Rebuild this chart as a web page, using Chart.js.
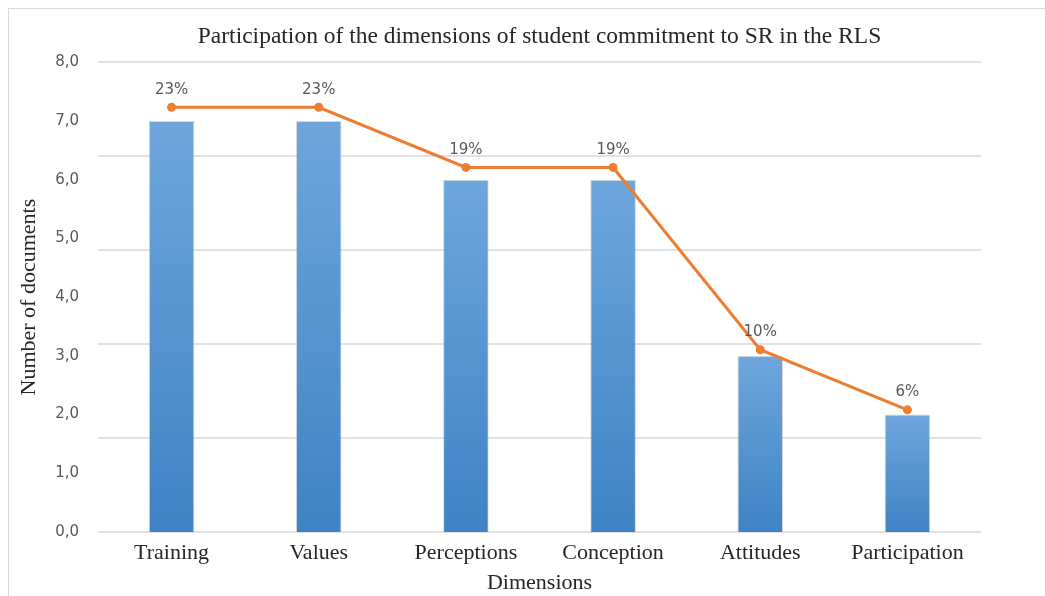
<!DOCTYPE html>
<html><head><meta charset="utf-8">
<script src="https://cdn.jsdelivr.net/npm/chart.js@4.4.1/dist/chart.umd.min.js"></script>
<style>
html,body{margin:0;padding:0;background:#fff;overflow:hidden;}
#wrap{position:relative;width:1045px;height:596px;overflow:hidden;}
#c{display:block;}
#frame{position:absolute;left:8px;top:8px;width:1100px;height:700px;border:1px solid #d9d9d9;pointer-events:none;}
</style></head><body>
<div id="wrap"><canvas id="c" width="1045" height="596"></canvas><div id="frame"></div></div>
<script>
const categories = ["Training", "Values", "Perceptions", "Conception", "Attitudes", "Participation"];
const documentCounts = [7, 7, 6, 6, 3, 2];
const sharePercent = [22.6, 22.6, 19.4, 19.4, 9.7, 6.5];
const shareLabels = ["23%", "23%", "19%", "19%", "10%", "6%"];
const countTickLabels = ["0,0", "1,0", "2,0", "3,0", "4,0", "5,0", "6,0", "7,0", "8,0"];

const serif = "'Liberation Serif', 'Times New Roman', serif";
const sans = "'DejaVu Sans', 'Open Sans', sans-serif";

const pctLabelPlugin = {
  id: 'pctLabels',
  afterDatasetsDraw(chart) {
    const meta = chart.getDatasetMeta(0);
    const ctx = chart.ctx;
    ctx.save();
    ctx.font = "15px 'DejaVu Sans'";
    ctx.fillStyle = '#595959';
    ctx.textAlign = 'center';
    ctx.textBaseline = 'bottom';
    meta.data.forEach((pt, i) => { ctx.fillText(shareLabels[i], pt.x, pt.y - 10); });
    ctx.restore();
  }
};

function barGradient(context) {
  const chart = context.chart;
  const { chartArea, scales } = chart;
  if (!chartArea || context.raw === undefined) return '#5b9bd5';
  const top = scales.y.getPixelForValue(context.raw);
  const bottom = scales.y.getPixelForValue(0);
  const g = chart.ctx.createLinearGradient(0, top, 0, bottom);
  g.addColorStop(0, '#6ea6dc');
  g.addColorStop(1, '#3e83c5');
  return g;
}

new Chart(document.getElementById('c'), {
  type: 'bar',
  data: {
    labels: categories,
    datasets: [
      {
        type: 'line', data: sharePercent, yAxisID: 'y1',
        borderColor: '#ed7d31', backgroundColor: '#ed7d31', borderWidth: 3,
        pointRadius: 4.5, pointBackgroundColor: '#ed7d31', pointBorderWidth: 0,
        tension: 0, order: 0
      },
      {
        type: 'bar', data: documentCounts, yAxisID: 'y',
        backgroundColor: barGradient, borderColor: 'rgba(150,150,150,0.35)', borderWidth: 1,
        categoryPercentage: 1, barPercentage: 0.31, order: 1
      }
    ]
  },
  options: {
    responsive: false,
    animation: false,
    devicePixelRatio: 1,
    layout: { padding: { left: 0, right: 64, top: 0, bottom: 0 } },
    plugins: {
      legend: { display: false },
      tooltip: { enabled: false },
      title: {
        display: true, fullSize: false,
        text: 'Participation of the dimensions of student commitment to SR in the RLS',
        font: { family: serif, size: 23.5, weight: 'normal' }, color: '#262626',
        padding: { top: 23, bottom: 11 }
      }
    },
    scales: {
      x: {
        grid: { display: false, drawTicks: false }, border: { display: false },
        ticks: { font: { family: serif, size: 22 }, color: '#262626', padding: 8 },
        title: { display: true, text: 'Dimensions', font: { family: serif, size: 22 }, color: '#262626', padding: { top: 0, bottom: 0 } },
        afterFit(s) { s.height = 64; }
      },
      y: {
        position: 'left', min: 0, max: 8,
        ticks: { stepSize: 1, callback: (v, i) => countTickLabels[i], font: { family: sans, size: 15 }, color: '#595959', padding: 19 },
        grid: { display: false, drawTicks: false }, border: { display: false },
        title: { display: true, text: 'Number of documents', font: { family: serif, size: 22 }, color: '#262626', padding: { top: 16, bottom: 0 } },
        afterFit(s) { s.width = 98; }
      },
      y1: {
        position: 'right', min: 0, max: 25,
        ticks: { display: false, stepSize: 5 },
        grid: { color: '#e2e2e2', lineWidth: 2, drawTicks: false }, border: { display: false },
        afterFit(s) { s.width = 0; }
      }
    }
  },
  plugins: [pctLabelPlugin]
});
</script>
</body></html>
